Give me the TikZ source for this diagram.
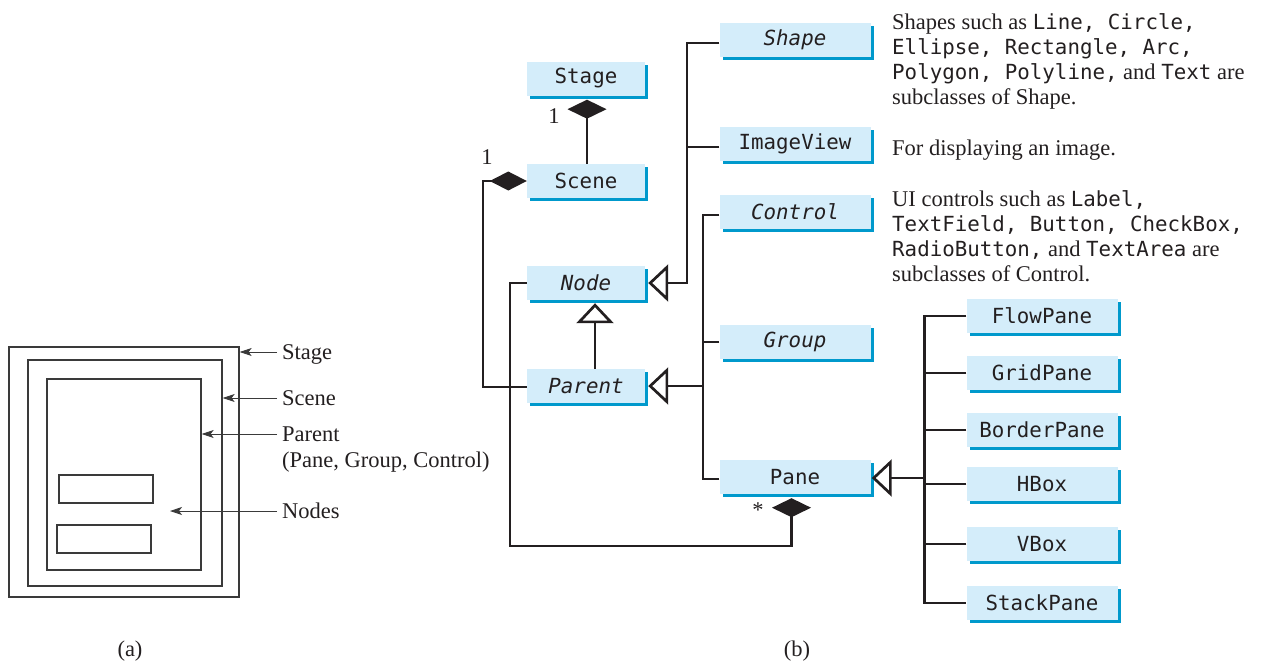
\documentclass[tikz,border=0pt]{standalone}
\usepackage{fontspec}
\setmainfont{Liberation Serif}
\newfontfamily\cmono{DejaVu Sans Mono}
\usetikzlibrary{arrows.meta,shadows}
\definecolor{boxfill}{HTML}{D4EDFA}
\definecolor{boxshadow}{HTML}{0099CC}
\definecolor{ink}{HTML}{231F20}
\definecolor{thinink}{HTML}{3A3A3A}
\newcommand\clsfont{\cmono\fontsize{20.8}{24}\selectfont}
\newcommand\mn[1]{{\cmono\fontsize{20.8}{25}\selectfont #1}}
\newcommand\serfont{\fontsize{22.5}{25}\selectfont}
\begin{document}
\begin{tikzpicture}[x=1pt,y=-1pt]
\tikzset{
  cls/.style={fill=boxfill, draw=none, minimum height=34pt, inner sep=0pt, text=ink, font=\clsfont,
    drop shadow={shadow xshift=3pt, shadow yshift=-3pt, fill=boxshadow, opacity=1}},
  clsA/.style={cls, minimum width=118pt},
  clsB/.style={cls, minimum width=151pt},
  abstr/.style={font=\clsfont\itshape},
  conn/.style={draw=ink, line width=2.7pt},
  gen/.style={conn, -{Triangle[open, length=20pt, width=37pt, fill=white]}, shorten >=3pt},
  compV/.style={conn, -{Diamond[length=19pt, width=39pt]}, shorten >=4pt},
  compH/.style={conn, -{Diamond[length=37pt, width=19pt]}},
  desc/.style={font=\serfont, text=ink, align=left, inner sep=0pt, anchor=base west},
  mult/.style={font=\serfont, text=ink, inner sep=0pt},
  frame/.style={draw=thinink, line width=1.3pt, inner sep=0pt},
  ptr/.style={draw=thinink, line width=0.9pt, -{Stealth[length=12pt, width=8pt, inset=3pt]}},
  lblA/.style={font=\fontsize{22.5}{26}\selectfont, text=ink, anchor=base west, inner xsep=5pt, inner ysep=0pt, align=left},
}
\useasboundingbox (0,0) rectangle (1266,662);

% ---------------- (a) ----------------
\node[frame, minimum width=230pt, minimum height=250pt] (aStage) at (124,472) {};
\node[frame, minimum width=194pt, minimum height=226pt] (aScene) at (125,473) {};
\node[frame, minimum width=154pt, minimum height=191pt] (aParent) at (124,474.5) {};
\node[frame, minimum width=94pt, minimum height=28pt] (aNodeA) at (106,489) {};
\node[frame, minimum width=94pt, minimum height=28pt] (aNodeB) at (104,539) {};

\node[lblA] (lStage) at (277,359.5) {Stage};
\node[lblA] (lScene) at (277,405.5) {Scene};
\node[lblA] (lParent) at (277,467.5) {Parent\\(Pane, Group, Control)};
\node[lblA] (lNodes) at (277,518.5) {Nodes};
\coordinate (pStage) at ([yshift=7.5pt]lStage.base west);
\coordinate (pScene) at ([yshift=7.5pt]lScene.base west);
\coordinate (pParent) at ([yshift=33.5pt]lParent.base west);
\coordinate (pNodes) at ([yshift=7.5pt]lNodes.base west);
\coordinate (nodesTip) at (170,511);
\draw[ptr] (pStage) -- (pStage -| aStage.east);
\draw[ptr] (pScene) -- (pScene -| aScene.east);
\draw[ptr] (pParent) -- (pParent -| aParent.east);
\draw[ptr] (pNodes) -- (nodesTip);

\node[mult] (capA) at (130,651) {(a)};
\node[mult] (capB) at (797,651) {(b)};

% ---------------- (b) ----------------
\node[clsA] (Stage) at (586,78.5) {Stage};
\node[clsA] (Scene) at (586,181) {Scene};
\node[clsA, abstr] (Node) at (586,283) {Node};
\node[clsA, abstr] (Parent) at (586,386) {Parent};
\node[clsB, abstr] (Shape) at (795,40) {Shape};
\node[clsB] (ImageView) at (795,144) {ImageView};
\node[clsB, abstr] (Control) at (795,212) {Control};
\node[clsB, abstr] (Group) at (795,342) {Group};
\node[clsB] (Pane) at (795,477) {Pane};
\node[clsB] (FlowPane) at (1042,316) {FlowPane};
\node[clsB] (GridPane) at (1042,373) {GridPane};
\node[clsB] (BorderPane) at (1042,430) {BorderPane};
\node[clsB] (HBox) at (1042,484) {HBox};
\node[clsB] (VBox) at (1042,544) {VBox};
\node[clsB] (StackPane) at (1042,603) {StackPane};

% Stage <>- Scene
\draw[compV] ([xshift=1pt]Scene.north) -- ([xshift=1pt]Stage.south);
\node[mult] (mStage) at (554,116) {1};
% Scene <>- Parent
\coordinate (sc) at (483,181);
\draw[compH] ([yshift=-1pt]Parent.west) -| (sc) -- (Scene.west);
\node[mult] (mScene) at (487,157) {1};
% Node <|- Parent
\draw[gen] ([xshift=9pt]Parent.north) -- ([xshift=9pt]Node.south);
% Shape, ImageView -|> Node
\coordinate (tA) at (687,283);
\draw[gen] ([yshift=-3pt]Shape.west) -| (tA) -- (Node.east);
\draw[conn] ([yshift=-3pt]ImageView.west) -- ++(-32,0);
% Control, Group, Pane -|> Parent
\coordinate (tB) at (703,386);
\draw[gen] ([yshift=-3pt]Control.west) -| (tB) -- (Parent.east);
\draw[conn] (Group.west) -- ++(-16,0);
\draw[conn] ([yshift=-2pt]Pane.west) -| (tB);
% Pane <>- Node
\coordinate (nb) at (510,546);
\draw[compV] (Node.west) -| (nb) -| ([xshift=-3.5pt]Pane.south);
\node[mult] (mPane) at (758,510) {*};
% Pane subclasses
\coordinate (tC) at (924,478);
\draw[gen, shorten >=1pt] (tC) -- ([yshift=-1pt]Pane.east);
\draw[conn] (FlowPane.west) -- ++(-42,0) |- (StackPane.west);
\draw[conn] (GridPane.west) -- ++(-42,0);
\draw[conn] (BorderPane.west) -- ++(-42,0);
\draw[conn] (HBox.west) -- ++(-42,0);
\draw[conn] (VBox.west) -- ++(-42,0);

% descriptions
\node[desc] (dShape) at (892,104.5) {Shapes such as \mn{Line, Circle,}\\
\mn{Ellipse, Rectangle, Arc,}\\
\mn{Polygon, Polyline,} and \mn{Text} are\\
subclasses of Shape.};
\node[desc] (dImage) at (892,155.5) {For displaying an image.};
\node[desc] (dControl) at (892,281) {UI controls such as \mn{Label,}\\
\mn{TextField, Button, CheckBox,}\\
\mn{RadioButton,} and \mn{TextArea} are\\
subclasses of Control.};
\end{tikzpicture}
\end{document}
